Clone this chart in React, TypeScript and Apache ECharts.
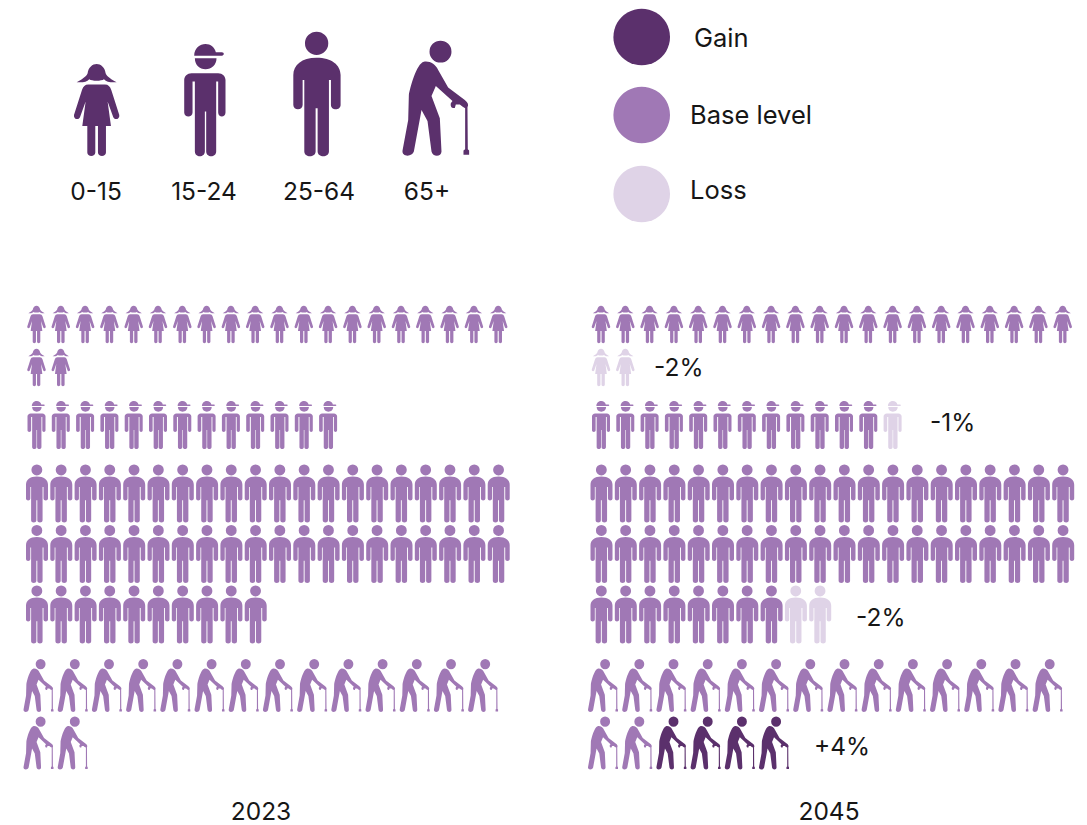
import React, { useEffect, useRef } from "react";
import * as echarts from "echarts";

const ageGroups = ["0-15", "15-24", "25-64", "65+"];
const rowsPerGroup = [2, 1, 3, 2];
const panelYears = ["2023", "2045"];
// people per row, from the top row to the bottom row
const base2023 = [20, 2, 13, 20, 20, 10, 14, 2];
const loss2023 = [0, 0, 0, 0, 0, 0, 0, 0];
const gain2023 = [0, 0, 0, 0, 0, 0, 0, 0];
const base2045 = [20, 0, 12, 20, 20, 8, 14, 2];
const loss2045 = [0, 2, 1, 0, 0, 2, 0, 0];
const gain2045 = [0, 0, 0, 0, 0, 0, 0, 4];
const changeLabels = ["-2%", "-1%", "-2%", "+4%"];
const legendNames = ["Gain", "Base level", "Loss"];

const DARK = "#5b306c";
const BASE = "#a078b5";
const LIGHT = "#dfd3e7";
const TEXT = "#161616";
const FONT = "Inter, 'Noto Sans', sans-serif";

const girlPath =
  "M50 187 C65 178 78 172 83 160 C85 142 98 132 110 132 C122 132 135 142 137 160 C142 172 155 178 170 187 C150 188 140 186 132 178 C125 184 95 184 88 178 C80 186 70 188 50 187 Z " +
  "M85 194 L135 194 C145 194 150 200 154 210 L178 285 C180 298 165 302 160 292 L143 245 L153 318 L138 318 L138 398 C138 412 114 412 114 398 L114 318 L106 318 L106 398 C106 412 82 412 82 398 L82 318 L67 318 L77 245 L60 292 C55 302 40 298 42 285 L66 210 C70 200 75 194 85 194 Z";
const boyPath =
  "M403 107 C403 85 420 72 437 72 C452 72 465 82 468 97 L486 97 C494 97 494 107 486 107 Z " +
  "M405 115 L470 115 C470 135 455 148 437 148 C419 148 405 135 405 115 Z " +
  "M395 160 L475 160 C488 160 497 170 497 180 L497 278 C497 294 475 294 475 278 L475 185 L469 185 L469 395 C469 414 439 414 439 395 L439 275 L435 275 L435 395 C435 414 405 414 405 395 L405 185 L398 185 L398 278 C398 294 373 294 373 278 L373 180 C373 170 382 160 395 160 Z";
const adultPath =
  "M105 70 A35 35 0 1 1 175 70 A35 35 0 1 1 105 70 Z " +
  "M140 113 C185 113 212 135 212 165 L212 255 C212 272 183 272 183 255 L183 180 L177 180 L177 395 C177 414 143 414 143 395 L143 265 L137 265 L137 395 C137 414 103 414 103 395 L103 180 L98 180 L98 255 C98 272 70 272 70 255 L70 165 C70 135 95 113 140 113 Z";
const elderPath =
  "M479 95 A33 33 0 1 1 545 95 A33 33 0 1 1 479 95 Z " +
  "M462 125 C480 122 497 132 505 150 L535 203 L585 240 C595 248 597 255 593 262 L594 388 L598 392 L598 405 L581 405 L581 392 L586 388 L586 265 C580 262 575 258 570 254 L558 254 L555 264 C548 266 541 262 543 250 L548 243 L498 198 L485 228 L510 295 L515 395 C515 412 488 412 485 395 L473 303 L455 270 L432 395 C427 412 395 412 398 392 L415 300 L417 225 C420 205 440 130 462 125 Z";
const groupPaths = [girlPath, boyPath, adultPath, elderPath];

// layout per age group
const groupTops = [303, 395, 463.25, 656.75];
const groupHeights = [86, 60, 181.5, 115];
const groupSlots = [20, 20, 20, 14];
const groupSlotWidths = [24.3, 24.3, 24.3, 34.2];
const groupFirstCentres = [36.5, 36.5, 37, 38.5];
const groupSymbolSizes = [
  [18.5, 37.5],
  [18, 48],
  [22, 58],
  [30, 53],
];
const panelOffsets = [0, 564.5];

function buildSeries() {
  const panels = [
    { base: base2023, loss: loss2023, gain: gain2023 },
    { base: base2045, loss: loss2045, gain: gain2045 },
  ];
  const series: any[] = [];
  panels.forEach((p, pi) => {
    let rowCursor = 0;
    rowsPerGroup.forEach((nRows, gi) => {
      const basePts: number[][] = [];
      const lossPts: number[][] = [];
      const gainPts: number[][] = [];
      for (let r = 0; r < nRows; r++) {
        const i = rowCursor + r;
        let col = 0;
        for (let k = 0; k < p.base[i]; k++) basePts.push([col++, r]);
        for (let k = 0; k < p.loss[i]; k++) lossPts.push([col++, r]);
        for (let k = 0; k < p.gain[i]; k++) gainPts.push([col++, r]);
      }
      rowCursor += nRows;
      const axisIndex = pi * 4 + gi;
      [
        { name: "Base level", data: basePts, color: BASE },
        { name: "Loss", data: lossPts, color: LIGHT },
        { name: "Gain", data: gainPts, color: DARK },
      ].forEach((s) => {
        if (!s.data.length) return;
        series.push({
          type: "scatter",
          name: `${panelYears[pi]} ${ageGroups[gi]} ${s.name}`,
          xAxisIndex: axisIndex,
          yAxisIndex: axisIndex,
          data: s.data,
          symbol: "path://" + groupPaths[gi],
          symbolSize: groupSymbolSizes[gi],
          itemStyle: { color: s.color, opacity: 1 },
          silent: true,
          clip: false,
        });
      });
    });
  });
  return series;
}

function buildAxes() {
  const grid: any[] = [];
  const xAxis: any[] = [];
  const yAxis: any[] = [];
  panelOffsets.forEach((offset) => {
    rowsPerGroup.forEach((nRows, gi) => {
      const idx = grid.length;
      const w = groupSlotWidths[gi];
      grid.push({
        left: offset + groupFirstCentres[gi] - w / 2,
        top: groupTops[gi],
        width: w * groupSlots[gi],
        height: groupHeights[gi],
      });
      xAxis.push({ type: "value", gridIndex: idx, min: -0.5, max: groupSlots[gi] - 0.5, show: false });
      yAxis.push({
        type: "category",
        gridIndex: idx,
        inverse: true,
        data: Array.from({ length: nRows }, (_, r) => String(r)),
        show: false,
      });
    });
  });
  return { grid, xAxis, yAxis };
}

function txt(text: string, x: number, y: number, align: string, fontSize = 24.5) {
  return {
    type: "text",
    x,
    y,
    silent: true,
    style: { text, fill: TEXT, font: `400 ${fontSize}px ${FONT}`, textAlign: align, textVerticalAlign: "middle" },
  };
}

function buildGraphics() {
  ["girl", "boy", "adult", "elder"].forEach((n, i) => {
    echarts.graphic.registerShape(n, echarts.graphic.extendPath(groupPaths[i], {}) as any);
  });
  const iconOrigins = [60, 60, 270, 270];
  const icons = ["girl", "boy", "adult", "elder"].map((n, i) => ({
    type: n,
    x: iconOrigins[i],
    y: 20,
    scaleX: 1 / 3,
    scaleY: 1 / 3,
    silent: true,
    style: { fill: DARK },
  }));
  const ageX = [96, 204, 319, 427];
  const ageLabels = ageGroups.map((g, i) => txt(g, ageX[i], 191, "center"));
  const legendY = [37, 115, 194];
  const legendColors = [DARK, BASE, LIGHT];
  const legendDots = legendNames.map((_, i) => ({
    type: "circle",
    silent: true,
    shape: { cx: 641.7, cy: legendY[i], r: 28.3 },
    style: { fill: legendColors[i] },
  }));
  const legendTextX = [694, 690, 690];
  const legendTextY = [37, 114, 189];
  const legendLabels = legendNames.map((n, i) => txt(n, legendTextX[i], legendTextY[i], "left", 25.5));
  const changeX = [654, 930, 856, 814];
  const changeY = [367, 422, 617, 746];
  const changes = changeLabels.map((c, i) => txt(c, changeX[i], changeY[i], "left"));
  const yearX = [261, 829];
  const years = panelYears.map((y, i) => txt(y, yearX[i], 811, "center"));
  return [...icons, ...ageLabels, ...legendDots, ...legendLabels, ...changes, ...years];
}

export default function App() {
  const ref = useRef<HTMLDivElement>(null);
  useEffect(() => {
    const chart = echarts.init(ref.current!, undefined, { renderer: "svg" });
    chart.setOption({
      animation: false,
      backgroundColor: "#ffffff",
      ...buildAxes(),
      series: buildSeries(),
      graphic: buildGraphics(),
    });
    return () => chart.dispose();
  }, []);
  return <div ref={ref} style={{ position: "absolute", left: 0, top: 0, width: 1087, height: 825 }} />;
}
